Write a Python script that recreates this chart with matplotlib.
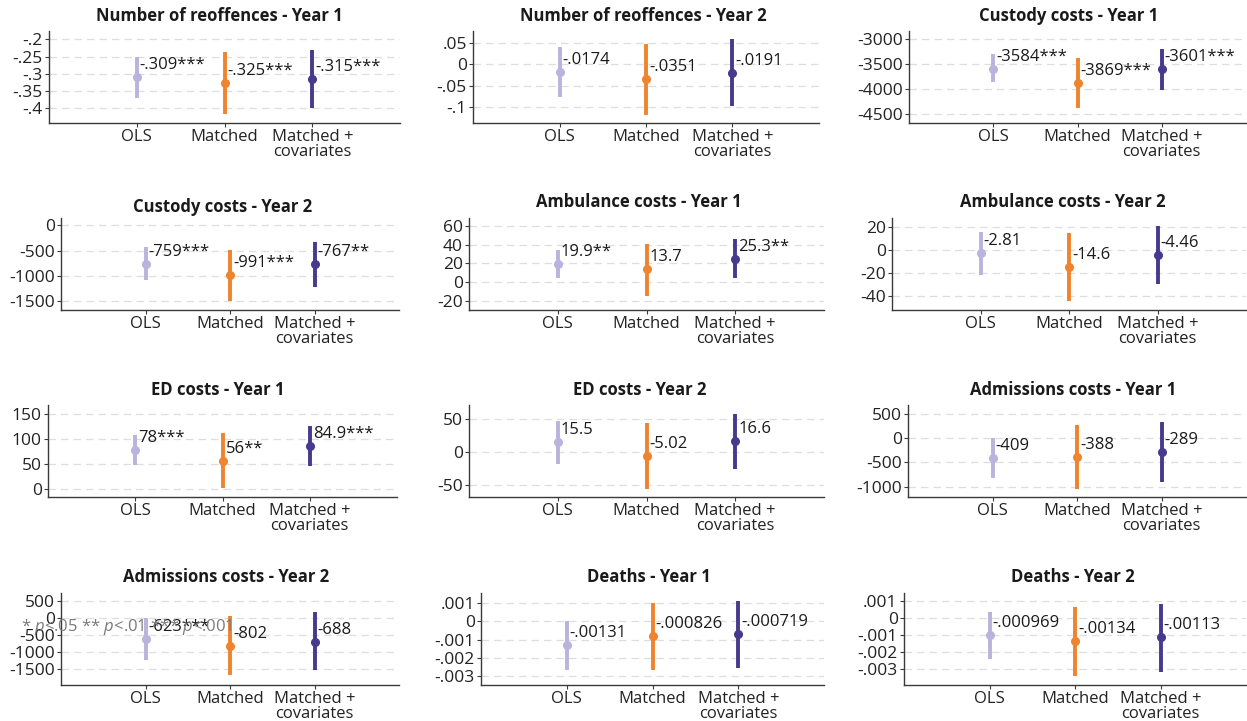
import matplotlib
matplotlib.use("Agg")
import matplotlib.pyplot as plt

plt.rcParams['font.family'] = ['Open Sans', 'DejaVu Sans']
plt.rcParams['mathtext.fontset'] = 'custom'
plt.rcParams['mathtext.rm'] = 'Open Sans'
plt.rcParams['mathtext.it'] = 'Open Sans:italic'

# ---------------- data ----------------
models = ["OLS", "Matched", "Matched +\ncovariates"]
model_colors = ["#bab3dd", "#f0842e", "#463a8d"]

titles = [
    "Number of reoffences - Year 1", "Number of reoffences - Year 2", "Custody costs - Year 1",
    "Custody costs - Year 2", "Ambulance costs - Year 1", "Ambulance costs - Year 2",
    "ED costs - Year 1", "ED costs - Year 2", "Admissions costs - Year 1",
    "Admissions costs - Year 2", "Deaths - Year 1", "Deaths - Year 2",
]

estimates = [
    [-0.309, -0.325, -0.315],
    [-0.0174, -0.0351, -0.0191],
    [-3584, -3869, -3601],
    [-759, -991, -767],
    [19.9, 13.7, 25.3],
    [-2.81, -14.6, -4.46],
    [78, 56, 84.9],
    [15.5, -5.02, 16.6],
    [-409, -388, -289],
    [-623, -802, -688],
    [-0.00131, -0.000826, -0.000719],
    [-0.000969, -0.00134, -0.00113],
]

ci_lower = [
    [-0.369, -0.416, -0.400],
    [-0.076, -0.118, -0.097],
    [-3864, -4365, -4018],
    [-1088, -1497, -1214],
    [4.1, -14.3, 4.2],
    [-21.5, -44.9, -30.1],
    [47.5, 0.5, 44.8],
    [-17.3, -55.2, -25.3],
    [-828, -1041, -904],
    [-1237, -1674, -1528],
    [-0.002655, -0.00267, -0.00256],
    [-0.0024, -0.00341, -0.0032],
]

ci_upper = [
    [-0.251, -0.236, -0.231],
    [0.0405, 0.048, 0.0595],
    [-3301, -3382, -3195],
    [-430, -485, -320],
    [34.7, 40.8, 46.4],
    [15.6, 15.1, 21.2],
    [108.5, 111.5, 125.0],
    [47.4, 44.9, 58.0],
    [0.6, 268, 336],
    [-10, 52, 168],
    [0.00003, 0.001, 0.00111],
    [0.000397, 0.00067, 0.000865],
]

value_labels = [
    ["-.309***", "-.325***", "-.315***"],
    ["-.0174", "-.0351", "-.0191"],
    ["-3584***", "-3869***", "-3601***"],
    ["-759***", "-991***", "-767**"],
    ["19.9**", "13.7", "25.3**"],
    ["-2.81", "-14.6", "-4.46"],
    ["78***", "56**", "84.9***"],
    ["15.5", "-5.02", "16.6"],
    ["-409", "-388", "-289"],
    ["-623***", "-802", "-688"],
    ["-.00131", "-.000826", "-.000719"],
    ["-.000969", "-.00134", "-.00113"],
]

ytick_values = [
    [-0.2, -0.25, -0.3, -0.35, -0.4],
    [0.05, 0, -0.05, -0.1],
    [-3000, -3500, -4000, -4500],
    [0, -500, -1000, -1500],
    [60, 40, 20, 0, -20],
    [20, 0, -20, -40],
    [150, 100, 50, 0],
    [50, 0, -50],
    [500, 0, -500, -1000],
    [500, 0, -500, -1000, -1500],
    [0.001, 0, -0.001, -0.002, -0.003],
    [0.001, 0, -0.001, -0.002, -0.003],
]
ytick_labels = [
    ["-.2", "-.25", "-.3", "-.35", "-.4"],
    [".05", "0", "-.05", "-.1"],
    ["-3000", "-3500", "-4000", "-4500"],
    ["0", "-500", "-1000", "-1500"],
    ["60", "40", "20", "0", "-20"],
    ["20", "0", "-20", "-40"],
    ["150", "100", "50", "0"],
    ["50", "0", "-50"],
    ["500", "0", "-500", "-1000"],
    ["500", "0", "-500", "-1000", "-1500"],
    [".001", "0", "-.001", "-.002", "-.003"],
    [".001", "0", "-.001", "-.002", "-.003"],
]

note_text = "* $p$<.05 ** $p$<.01 *** $p$<.001"

# ---------------- layout (pixels) ----------------
W, H = 1247, 721
ylims = [
    (-0.442, -0.176), (-0.138, 0.079), (-4675, -2833),
    (-1680, 147), (-29.6, 68.5), (-52.5, 28.3),
    (-16.7, 168), (-67.7, 71.7), (-1212, 679),
    (-1953, 733), (-0.00349, 0.00155), (-0.00394, 0.00149),
]
# left, right, top, bottom in pixels
boxes = [
    (49, 400, 31, 123), (473, 819, 31, 123), (909, 1246, 31, 123),
    (61, 399, 218, 310), (469, 824, 218, 310), (892, 1246, 218, 310),
    (48, 397, 405, 497), (469, 824, 405, 497), (908, 1246, 405, 497),
    (61, 399, 593, 685), (481, 824, 593, 685), (904, 1246, 593, 685),
]
title_pos = [
    (219, 16), (643, 16), (1069, 16),
    (223, 207), (639, 202), (1063, 202),
    (218, 390), (640, 390), (1073, 390),
    (226, 577), (649, 577), (1073, 577),
]

fig = plt.figure(figsize=(W / 100, H / 100), dpi=100)
fig.patch.set_facecolor("white")

xpos = [1, 2, 3]
for i in range(12):
    l, r, t, b = boxes[i]
    ax = fig.add_axes([l / W, 1 - b / H, (r - l) / W, (b - t) / H])
    ax.set_xlim(0, 4)
    ax.set_ylim(*ylims[i])
    ax.set_yticks(ytick_values[i])
    ax.set_yticklabels(ytick_labels[i])
    ax.set_xticks(xpos)
    ax.set_xticklabels(models, linespacing=0.88)
    for s in ["top", "right"]:
        ax.spines[s].set_visible(False)
    for s in ["left", "bottom"]:
        ax.spines[s].set_color("#3a3a3a")
        ax.spines[s].set_linewidth(1.0)
    ax.tick_params(axis="y", length=3, width=0.8, color="#3a3a3a", pad=1.5,
                   labelsize=12.5, labelcolor="#222222")
    ax.tick_params(axis="x", length=3, width=0.8, color="#3a3a3a", pad=1.5,
                   labelsize=12, labelcolor="#222222")
    for yv in ytick_values[i]:
        ax.axhline(yv, color="#dedede", lw=0.9, ls=(0, (6, 4)), zorder=0)
    for j in range(3):
        c = model_colors[j]
        ax.plot([xpos[j], xpos[j]], [ci_lower[i][j], ci_upper[i][j]], color=c,
                lw=2.8, solid_capstyle="butt", zorder=2)
        ax.plot(xpos[j], estimates[i][j], "o", color=c, ms=5.5, zorder=3)
        ax.annotate(value_labels[i][j], (xpos[j], estimates[i][j]),
                    xytext=(3, 12), textcoords="offset pixels", ha="left",
                    va="center", fontsize=12, color="#1a1a1a", zorder=4)
    tx, ty = title_pos[i]
    fig.text(tx / W, 1 - ty / H, titles[i], ha="center", va="center",
             fontsize=12, fontweight="bold", color="#1a1a1a")

fig.text(21 / W, 1 - 627 / H, note_text, ha="left", va="center",
         fontsize=12, color="#7a7a7a", zorder=10)

fig.savefig("out.png", dpi=100, facecolor="white")
